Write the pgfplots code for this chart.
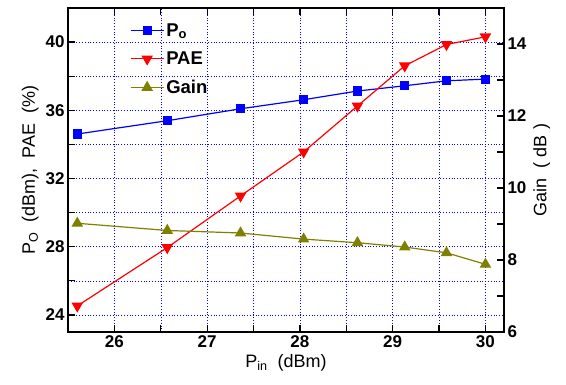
\documentclass[border=0pt]{standalone}
\usepackage{pgfplots}
\pgfplotsset{compat=1.18}
\usepackage{fontspec}
\setmainfont{Liberation Sans}
\definecolor{olivec}{RGB}{128,128,0}
\begin{document}
\begin{tikzpicture}
\pgfplotsset{
 common/.style={scale only axis, width=436pt, height=324pt, xmin=25.5, xmax=30.2,
   tick label style={font=\fontsize{17}{20}\selectfont\bfseries},
   /pgf/number format/assume math mode=true,
   label style={font=\fontsize{18}{21}\selectfont},
   major tick length=7pt, tick style={line width=1.2pt, black},
   axis line style={line width=1.5pt},
   tick align=inside,
 }
}
\begin{axis}[common,
  ymin=23, ymax=42, ytick={24,26,28,30,32,34,36,38,40}, yticklabels={24,,28,,32,,36,,40},
  xtick={26,26.5,27,27.5,28,28.5,29,29.5,30}, xticklabels={26,,27,,28,,29,,30},
  ytick pos=left, xtick pos=both,
  grid=major, grid style={blue, line width=0.5pt, dash pattern=on 0.8pt off 2pt},
  xlabel={P\textsubscript{in}\ \ (dBm)}, ylabel={P\textsubscript{O}\ \ (dBm),\ \ PAE\ \ (\%)},
  legend style={at={(0.135,0.965)}, anchor=north west, draw=none, fill=none, font=\fontsize{18.5}{21}\selectfont\bfseries, row sep=10pt},
  legend image code/.code={\draw[mark repeat=2, mark phase=2] plot coordinates {(0cm,0cm)(0.58cm,0cm)(1.16cm,0cm)};},
  legend cell align=left,
]
\addplot[blue, line width=1.2pt, mark=square*, mark size=4pt, mark options={solid}] coordinates {
(25.6,34.61) (26.57,35.39) (27.36,36.09) (28.04,36.62) (28.62,37.13) (29.13,37.44) (29.58,37.73) (30.0,37.83)};
\addlegendentry{P\textsubscript{o}}
\addplot[red, line width=1.2pt, mark=triangle*, mark size=5.5pt, mark options={solid, rotate=180}] coordinates {
(25.6,24.53) (26.57,27.95) (27.36,30.98) (28.04,33.56) (28.62,36.25) (29.13,38.61) (29.58,39.86) (30.0,40.31)};
\addlegendentry{PAE}
\addlegendimage{olivec, line width=1.2pt, mark=triangle*, mark size=5.5pt, mark options={solid}}
\addlegendentry{Gain}
\end{axis}
\begin{axis}[common,
  ymin=6, ymax=15, ytick={6,7,8,9,10,11,12,13,14,15}, yticklabels={6,,8,,10,,12,,14,},
  axis y line*=right, axis x line=none,
  ylabel={Gain\ \ (\ dB\ )},
]
\addplot[olivec, line width=1.2pt, mark=triangle*, mark size=5.5pt, mark options={solid}] coordinates {
(25.6,9.02) (26.57,8.82) (27.36,8.75) (28.04,8.58) (28.62,8.48) (29.13,8.36) (29.58,8.20) (30.0,7.88)};
\end{axis}
\pgfresetboundingbox
\path[use as bounding box] (-68pt,-53pt) rectangle (498pt,332pt);
\end{tikzpicture}
\end{document}
